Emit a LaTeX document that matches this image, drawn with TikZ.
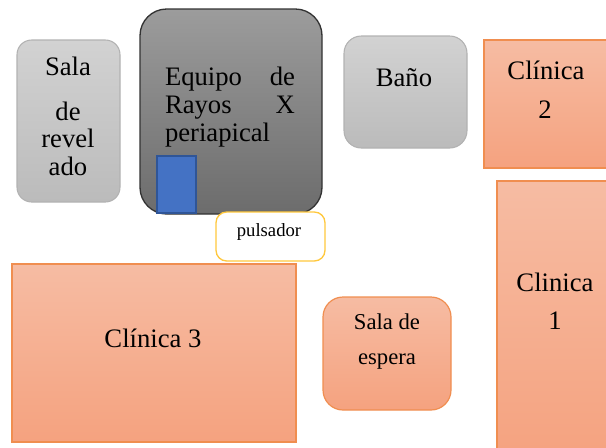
\documentclass[tikz,border=0pt]{standalone}
\usepackage{fontspec}
\setmainfont{Liberation Serif}
\usepackage{tikz}
\usetikzlibrary{positioning}
\definecolor{orangetop}{HTML}{F6BCA3}
\definecolor{orangebot}{HTML}{F5A27F}
\definecolor{orangeline}{HTML}{F08E50}
\definecolor{graytop}{HTML}{D2D2D2}
\definecolor{graybot}{HTML}{BBBBBB}
\definecolor{darktop}{HTML}{9C9C9C}
\definecolor{darkbot}{HTML}{6C6C6C}
\definecolor{tubeblue}{HTML}{4472C4}
\definecolor{tubeline}{HTML}{2F5597}
\definecolor{buttonline}{HTML}{FFC83D}
\begin{document}
\begin{tikzpicture}[
            x=.75pt,y=-.75pt,
            room/.style={rectangle,minimum width=#1,inner sep=0,outer sep=0,anchor=north west},
            clinic/.style={room=#1,draw=orangeline,line width=.9pt,top color=orangetop,bottom color=orangebot},
            waiting/.style={clinic=#1,rounded corners=15pt},
            light/.style={room=#1,draw=graybot!95!black,line width=.8pt,top color=graytop,bottom color=graybot},
            xray/.style={room=#1,draw=black!80,line width=1pt,top color=darktop,bottom color=darkbot,rounded corners=20pt},
            button/.style={room=#1,draw=buttonline,fill=white,line width=1pt,rounded corners=8pt},
            tube/.style={room=#1,draw=tubeline,fill=tubeblue,line width=.8pt},
            lab/.style={font=\fontsize{20}{21}\selectfont,align=center,inner sep=0},
            smalllab/.style={font=\fontsize{17}{20}\selectfont,align=center,inner sep=0}
          ]
          \useasboundingbox (0,0) rectangle (606,447);

          %rooms
          \node[light=77.25pt,minimum height=121.5pt,rounded corners=11pt] (revelado) at (17,40) {};
          \node[xray=136.5pt,minimum height=153.75pt] (equipo) at (140,9) {};
          \node[tube=29.25pt,minimum height=42.75pt] (tubo) at (157,156) {};
          \node[button=81.75pt,minimum height=36.75pt] (pulsador) at (216,212) {};
          \node[light=92.25pt,minimum height=84pt,rounded corners=13pt] (bano) at (344,36) {};
          \node[clinic=110pt,minimum height=96pt] (clinica2) at (484,40) {};
          \node[clinic=110pt,minimum height=210pt] (clinica1) at (497,181) {};
          \node[clinic=213pt,minimum height=133.5pt] (clinica3) at (12,264) {};
          \node[waiting=96pt,minimum height=84.75pt] (espera) at (323,297) {};

          %labels
          \node[lab] (sala) at (68,66) {Sala};
          \node[lab] (de) at (68,111) {de};
          \node[lab,below=6pt of de] (revel) {revel\\ado};
          \node[lab,text width=97.5pt,align=left] (equipolab) at (230,107) {Equipo\hfill de\\Rayos\hfill X\\periapical};
          \node[font=\fontsize{14}{16}\selectfont,inner sep=0] (pulsadorlab) at (269,232) {pulsador};
          \node[lab] (banolab) at (404,78) {Baño};
          \node[lab] (cl2) at (546,70) {Clínica};
          \node[lab] (n2) at (545,110) {2};
          \node[lab] (cl1) at (555,282) {Clinica};
          \node[lab] (n1) at (555,321) {1};
          \node[lab] (cl3lab) at (153,338) {Clínica 3};
          \node[smalllab] (salade) at (387,322) {Sala de};
          \node[smalllab] (esperalab) at (387,362) {espera};
      \end{tikzpicture}
\end{document}
